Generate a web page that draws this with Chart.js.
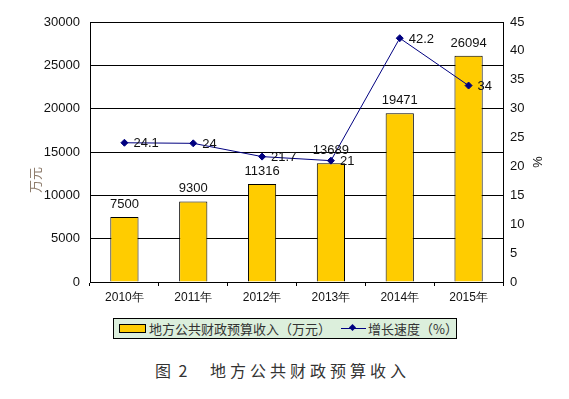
<!DOCTYPE html>
<html>
<head>
<meta charset="utf-8">
<script src="https://cdn.jsdelivr.net/npm/chart.js@4"></script>
<style>
  body { margin: 0; background: #fff; }
  #wrap { position: relative; width: 569px; height: 399px; font-family: "Liberation Sans", Arial, sans-serif; }
  #chart { position: absolute; left: 0; top: 0; }
  #legend {
    position: absolute; left: 113px; top: 318px; width: 342px; height: 19px;
    border: 1px solid #000; background: #dcefdc;
    font-family: "Noto Sans CJK SC", sans-serif; font-size: 13px; color: #333;
  }
  #legend .swatch { position: absolute; left: 5px; top: 5px; width: 25px; height: 7px; background: #ffcc00; border: 1px solid #000; }
  #legend .lbl1 { position: absolute; left: 35px; top: 0px; line-height: 19px; }
  #legend .line { position: absolute; left: 227px; top: 9px; width: 25px; height: 1px; background: #000080; }
  #legend .dia { position: absolute; left: 236px; top: 6px; width: 5px; height: 5px; background: #000080; transform: rotate(45deg); }
  #legend .lbl2 { position: absolute; left: 254px; top: 0px; line-height: 19px; }
  .cap { position: absolute; top: 360px; font-family: "Noto Sans CJK SC", serif; font-size: 16px; color: #333; line-height: 20px; white-space: pre; }
</style>
</head>
<body>
<div id="wrap">
  <canvas id="chart" width="569" height="310"></canvas>
  <div id="legend">
    <span class="swatch"></span><span class="lbl1">地方公共财政预算收入（万元）</span>
    <span class="line"></span><span class="dia"></span><span class="lbl2">增长速度（%）</span>
  </div>
  <div class="cap" style="left:155px; letter-spacing:2px;">图 2</div>
  <div class="cap" style="left:210px; letter-spacing:4px;">地方公共财政预算收入</div>
</div>
<script>
const years = ['2010年', '2011年', '2012年', '2013年', '2014年', '2015年'];
const revenue = [7500, 9300, 11316, 13689, 19471, 26094];
const growth = [24.1, 24, 21.7, 21, 42.2, 34];
const leftTicks = [0, 5000, 10000, 15000, 20000, 25000, 30000];
const rightTicks = [0, 5, 10, 15, 20, 25, 30, 35, 40, 45];

const tickFont = { family: '"Liberation Sans", Arial, sans-serif', size: 13 };

// value labels above bars and beside points, plus the two axis titles
const labelPlugin = {
  id: 'labels',
  afterDatasetsDraw(c) {
    const ctx = c.ctx;
    ctx.save();
    ctx.font = '13px "Liberation Sans", Arial, sans-serif';
    ctx.fillStyle = '#111';
    c.getDatasetMeta(0).data.forEach((el, i) => {
      ctx.textAlign = 'center';
      ctx.textBaseline = 'alphabetic';
      ctx.fillText(String(revenue[i]), el.x, el.y - 9);
    });
    c.getDatasetMeta(1).data.forEach((el, i) => {
      ctx.textAlign = 'left';
      ctx.textBaseline = 'middle';
      ctx.fillText(String(growth[i]), el.x + 9, el.y + 1);
    });
    const mid = (c.chartArea.top + c.chartArea.bottom) / 2;
    ctx.textAlign = 'center';
    ctx.textBaseline = 'middle';
    ctx.save();
    ctx.translate(35, mid + 28);
    ctx.rotate(-Math.PI / 2);
    ctx.fillStyle = '#8a7868';
    ctx.font = '13px "Noto Sans CJK SC", sans-serif';
    ctx.fillText('万元', 0, 0);
    ctx.restore();
    ctx.save();
    ctx.translate(537, mid + 10);
    ctx.rotate(Math.PI / 2);
    ctx.fillStyle = '#111';
    ctx.font = '13px "Liberation Sans", Arial, sans-serif';
    ctx.fillText('%', 0, 0);
    ctx.restore();
    ctx.restore();
  }
};

new Chart(document.getElementById('chart'), {
  data: {
    labels: years,
    datasets: [
      {
        type: 'bar',
        label: '地方公共财政预算收入（万元）',
        data: revenue,
        yAxisID: 'y',
        backgroundColor: '#ffcc00',
        borderColor: '#000',
        borderWidth: 1,
        barPercentage: 0.41,
        categoryPercentage: 1,
        order: 2
      },
      {
        type: 'line',
        label: '增长速度（%）',
        data: growth,
        yAxisID: 'y1',
        borderColor: '#000080',
        backgroundColor: '#000080',
        borderWidth: 1,
        pointStyle: 'rectRot',
        pointRadius: 3.5,
        tension: 0,
        order: 1
      }
    ]
  },
  options: {
    responsive: false,
    animation: false,
    layout: { padding: { top: 22, left: 0, right: 0, bottom: 0 } },
    plugins: {
      legend: { display: false },
      tooltip: { enabled: false }
    },
    scales: {
      x: {
        offset: true,
        grid: { offset: true, drawOnChartArea: false, color: '#000', tickLength: 4 },
        border: { color: '#000' },
        ticks: { color: '#111', font: { family: tickFont.family, size: 12 }, padding: 4 },
        afterFit(s) { s.height = 28; }
      },
      y: {
        position: 'left',
        min: 0,
        max: 30000,
        afterBuildTicks(s) { s.ticks = leftTicks.map(v => ({ value: v })); },
        grid: { color: '#000', drawTicks: false },
        border: { color: '#000' },
        ticks: { color: '#111', font: tickFont, padding: 10, callback: v => String(v) },
        afterFit(s) { s.width = 90; }
      },
      y1: {
        position: 'right',
        min: 0,
        max: 45,
        afterBuildTicks(s) { s.ticks = rightTicks.map(v => ({ value: v })); },
        grid: { drawOnChartArea: false, drawTicks: false },
        border: { color: '#000' },
        ticks: { color: '#111', font: tickFont, padding: 7, callback: v => String(v) },
        afterFit(s) { s.width = 66; }
      }
    }
  },
  plugins: [labelPlugin]
});
</script>
</body>
</html>
